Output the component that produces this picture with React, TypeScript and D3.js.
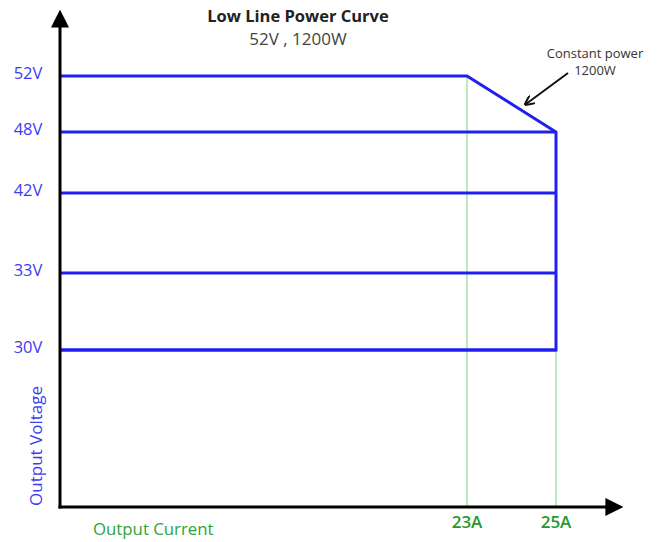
import React, { useEffect, useRef } from "react";
import * as d3 from "d3";

// rated voltages (V) and the two current break points (A)
const voltages = [52, 48, 42, 33, 30];
const currents = [23, 25];
const voltLabels = ["52V", "48V", "42V", "33V", "30V"];
const currLabels = ["23A", "25A"];
// constant power corner: 52V up to 23A, then falls to 48V at 25A
const cpCurve = [
  { a: 0, v: 52 },
  { a: 23, v: 52 },
  { a: 25, v: 48 },
  { a: 25, v: 30 },
  { a: 0, v: 30 },
];

const App = () => {
  const ref = useRef<SVGSVGElement>(null);

  useEffect(() => {
    drawChart();
  }, []);

  const drawChart = () => {
    const w = 658;
    const h = 542;
    const svg = d3.select(ref.current);
    svg.selectAll("*").remove();

    const font = "'Open Sans', 'DejaVu Sans', sans-serif";
    const blue = "#2020ee";
    const green = "#1f9a2a";

    // the drawing is not to scale, so both axes are piecewise
    const x = d3.scaleLinear().domain([0, 23, 25]).range([60, 467, 556]);
    const y = d3
      .scaleLinear()
      .domain([30, 33, 42, 48, 52])
      .range([350, 273, 193, 132, 76]);
    const x0 = 60;
    const yBase = 507;

    const defs = svg.append("defs");
    defs
      .append("marker")
      .attr("id", "axisHead")
      .attr("viewBox", "0 0 10 10")
      .attr("refX", 2)
      .attr("refY", 5)
      .attr("markerWidth", 6)
      .attr("markerHeight", 6)
      .attr("markerUnits", "strokeWidth")
      .attr("orient", "auto")
      .append("path")
      .attr("d", "M0,0 L10,5 L0,10 z")
      .attr("fill", "#000");
    defs
      .append("marker")
      .attr("id", "noteHead")
      .attr("viewBox", "0 0 10 10")
      .attr("refX", 8)
      .attr("refY", 5)
      .attr("markerWidth", 5)
      .attr("markerHeight", 5)
      .attr("markerUnits", "strokeWidth")
      .attr("orient", "auto")
      .append("path")
      .attr("d", "M0,0 L10,5 L0,10")
      .attr("fill", "none")
      .attr("stroke", "#111")
      .attr("stroke-width", 2);

    // green guide lines at the break currents
    svg
      .selectAll("line.guide")
      .data(currents)
      .enter()
      .append("line")
      .attr("class", "guide")
      .attr("x1", (d) => x(d))
      .attr("x2", (d) => x(d))
      .attr("y1", (d, i) => y(voltages[i]))
      .attr("y2", yBase)
      .attr("stroke", "#8edc8e")
      .attr("stroke-width", 1.2);

    // horizontal voltage lines
    svg
      .selectAll("line.volt")
      .data(voltages.slice(1))
      .enter()
      .append("line")
      .attr("class", "volt")
      .attr("x1", x(0))
      .attr("x2", x(25))
      .attr("y1", (d) => y(d))
      .attr("y2", (d) => y(d))
      .attr("stroke", blue)
      .attr("stroke-width", 3);

    const line = d3
      .line<{ a: number; v: number }>()
      .x((d) => x(d.a))
      .y((d) => y(d.v));
    svg
      .append("path")
      .attr("d", line(cpCurve))
      .attr("fill", "none")
      .attr("stroke", blue)
      .attr("stroke-width", 3)
      .attr("stroke-linejoin", "miter");

    // axes
    svg
      .append("line")
      .attr("x1", x0)
      .attr("x2", x0)
      .attr("y1", yBase + 1.5)
      .attr("y2", 24)
      .attr("stroke", "#000")
      .attr("stroke-width", 3)
      .attr("marker-end", "url(#axisHead)");
    svg
      .append("line")
      .attr("x1", x0 - 1.5)
      .attr("x2", 609)
      .attr("y1", yBase)
      .attr("y2", yBase)
      .attr("stroke", "#000")
      .attr("stroke-width", 3)
      .attr("marker-end", "url(#axisHead)");

    // tick labels
    svg
      .selectAll("text.vl")
      .data(voltages)
      .enter()
      .append("text")
      .attr("class", "vl")
      .attr("x", 28)
      .attr("y", (d) => y(d) + 3)
      .attr("text-anchor", "middle")
      .attr("font-family", font)
      .attr("font-size", 16.5)
      .attr("fill", "#3c3cf0")
      .text((d, i) => voltLabels[i]);

    svg
      .selectAll("text.cl")
      .data(currents)
      .enter()
      .append("text")
      .attr("class", "cl")
      .attr("x", (d) => x(d))
      .attr("y", 528)
      .attr("text-anchor", "middle")
      .attr("font-family", font)
      .attr("font-size", 17)
      .attr("font-weight", 600)
      .attr("fill", green)
      .text((d, i) => currLabels[i]);

    // axis titles
    svg
      .append("text")
      .attr("transform", "translate(42,446) rotate(-90)")
      .attr("text-anchor", "middle")
      .attr("font-family", font)
      .attr("font-size", 17)
      .attr("fill", "#3c3cf0")
      .text("Output Voltage");
    svg
      .append("text")
      .attr("x", 93)
      .attr("y", 535)
      .attr("font-family", font)
      .attr("font-size", 16.8)
      .attr("fill", "#2fa33a")
      .text("Output Current");

    // titles
    svg
      .append("text")
      .attr("x", 298)
      .attr("y", 22)
      .attr("text-anchor", "middle")
      .attr("font-family", font)
      .attr("font-size", 16.5)
      .attr("font-weight", 700)
      .attr("fill", "#222")
      .text("Low Line Power Curve");
    svg
      .append("text")
      .attr("x", 298)
      .attr("y", 45)
      .attr("text-anchor", "middle")
      .attr("font-family", font)
      .attr("font-size", 17)
      .attr("fill", "#444")
      .text("52V , 1200W");

    // annotation
    const note = svg
      .append("text")
      .attr("text-anchor", "middle")
      .attr("font-family", font)
      .attr("font-size", 13)
      .attr("fill", "#333");
    note.append("tspan").attr("x", 595).attr("y", 58).text("Constant power");
    note.append("tspan").attr("x", 595).attr("y", 75).text("1200W");
    svg
      .append("line")
      .attr("x1", 568)
      .attr("y1", 73)
      .attr("x2", 526)
      .attr("y2", 104)
      .attr("stroke", "#111")
      .attr("stroke-width", 2)
      .attr("marker-end", "url(#noteHead)");

    svg.attr("width", w).attr("height", h);
  };

  return (
    <svg
      ref={ref}
      width={658}
      height={542}
      style={{ position: "absolute", left: 0, top: 0, background: "#fff" }}
    />
  );
};

export default App;
